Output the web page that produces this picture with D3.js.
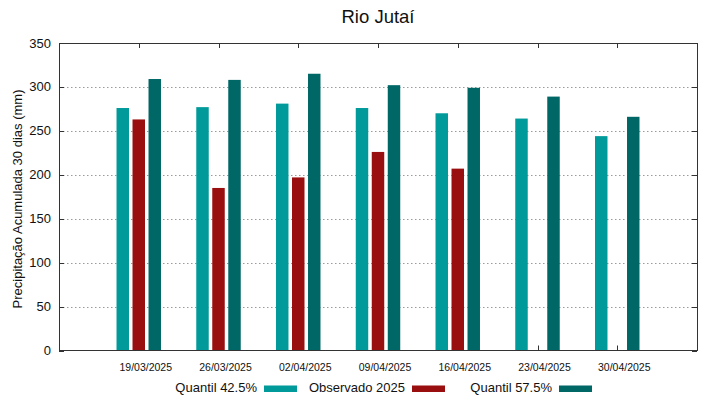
<!DOCTYPE html>
<html>
<head>
<meta charset="utf-8">
<script src="https://cdn.jsdelivr.net/npm/d3@7"></script>
<style>
  body { margin: 0; background: #fff; }
  text { font-family: "Liberation Sans", Arial, sans-serif; fill: #111; }
</style>
</head>
<body>
<script>
// values
var dates = ["19/03/2025", "26/03/2025", "02/04/2025", "09/04/2025", "16/04/2025", "23/04/2025", "30/04/2025"];
var q425 = [276, 277, 281, 276, 270, 264, 244];
var obs2025 = [263, 185, 197, 226, 207, null, null];
var q575 = [309, 308, 315, 302, 299, 289, 266];
var yTicks = [0, 50, 100, 150, 200, 250, 300, 350];

var seriesNames = ["Quantil 42.5%", "Observado 2025", "Quantil 57.5%"];
var seriesData = [q425, obs2025, q575];
var colors = ["#009a9a", "#990e0e", "#006767"];

var W = 719, H = 399;
// (window.top is read-only, so no "top" here)
var plotL = 59, plotR = 697, plotT = 43, plotB = 350.5;

var svg = d3.select("body").append("svg").attr("width", W).attr("height", H);

var x = d3.scaleLinear().domain([-1, dates.length]).range([plotL, plotR]);
var y = d3.scaleLinear().domain([0, 350]).range([plotB, plotT]);
var inner = d3.scaleBand().domain(d3.range(3)).range([-24, 24])
    .paddingInner(0.22).paddingOuter(0.11);

// grid
svg.append("g").selectAll("line")
    .data(yTicks.filter(function (d) { return d > 0 && d < 350; }))
    .enter().append("line")
    .attr("x1", plotL).attr("x2", plotR)
    .attr("y1", function (d) { return Math.round(y(d)) + 0.5; })
    .attr("y2", function (d) { return Math.round(y(d)) + 0.5; })
    .attr("stroke", "#9a9a9a")
    .attr("stroke-width", 1)
    .attr("stroke-dasharray", "1.5,2.5");

// x ticks (inside, top and bottom) - bars cover the bottom ones
var xt = svg.append("g").attr("stroke", "#333").attr("stroke-width", 1);
dates.forEach(function (d, i) {
    var cx = Math.round(x(i)) + 0.5;
    xt.append("line").attr("x1", cx).attr("x2", cx).attr("y1", plotB).attr("y2", plotB - 5);
    xt.append("line").attr("x1", cx).attr("x2", cx).attr("y1", plotT).attr("y2", plotT + 5);
});

// bars
seriesData.forEach(function (vals, s) {
    svg.append("g").selectAll("rect")
        .data(vals.map(function (v, i) { return {v: v, i: i}; })
            .filter(function (d) { return d.v != null; }))
        .enter().append("rect")
        .attr("x", function (d) { return x(d.i) + inner(s); })
        .attr("width", inner.bandwidth())
        .attr("y", function (d) { return y(d.v); })
        .attr("height", function (d) { return y(0) - y(d.v); })
        .attr("fill", colors[s]);
});

// y ticks, left and right
var yt = svg.append("g").attr("stroke", "#333").attr("stroke-width", 1);
yTicks.forEach(function (t) {
    var yy = Math.round(y(t)) + 0.5;
    yt.append("line").attr("x1", plotL).attr("x2", plotL + 5).attr("y1", yy).attr("y2", yy);
    yt.append("line").attr("x1", plotR).attr("x2", plotR - 5).attr("y1", yy).attr("y2", yy);
});

// frame
svg.append("rect")
    .attr("x", plotL + 0.5).attr("y", plotT + 0.5)
    .attr("width", plotR - plotL).attr("height", plotB - plotT - 0.5)
    .attr("fill", "none").attr("stroke", "#333").attr("stroke-width", 1);

// y labels
svg.append("g").selectAll("text")
    .data(yTicks).enter().append("text")
    .attr("x", 51)
    .attr("y", function (d) { return y(d) + 4.5; })
    .attr("text-anchor", "end")
    .style("font-size", "13px")
    .text(function (d) { return d; });

// x labels
svg.append("g").selectAll("text")
    .data(dates).enter().append("text")
    .attr("x", function (d, i) { return x(i) + 7; })
    .attr("y", 371)
    .attr("text-anchor", "middle")
    .style("font-size", "10.5px")
    .text(function (d) { return d; });

// title
svg.append("text")
    .attr("x", (plotL + plotR) / 2).attr("y", 23)
    .attr("text-anchor", "middle")
    .style("font-size", "18.5px")
    .text("Rio Jutaí");

// y axis title
svg.append("text")
    .attr("transform", "translate(22,199) rotate(-90)")
    .attr("text-anchor", "middle")
    .style("font-size", "13px")
    .text("Precipitação Acumulada 30 dias (mm)");

// legend
var legX = [264, 412, 559];
seriesNames.forEach(function (name, s) {
    svg.append("text")
        .attr("x", legX[s] - 7).attr("y", 392)
        .attr("text-anchor", "end")
        .style("font-size", "13px")
        .text(name);
    svg.append("rect")
        .attr("x", legX[s]).attr("y", 385.5)
        .attr("width", 33).attr("height", 6.5)
        .attr("fill", colors[s]);
});
</script>
</body>
</html>
